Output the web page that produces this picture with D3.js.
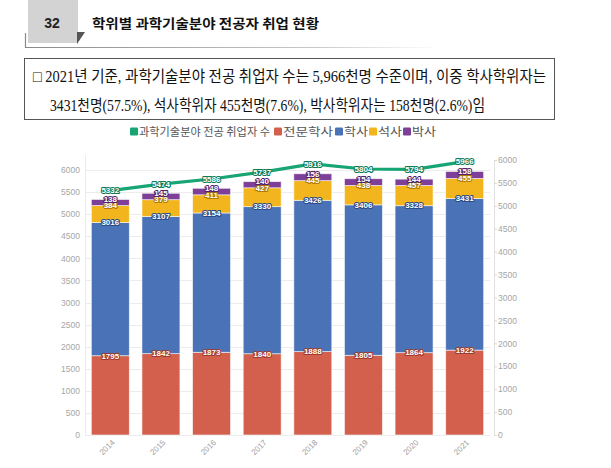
<!DOCTYPE html>
<html><head><meta charset="utf-8">
<script src="https://cdn.jsdelivr.net/npm/d3@7/dist/d3.min.js"></script>
<style>
html,body{margin:0;padding:0;background:#fff;}
svg{display:block;}
</style></head>
<body>
<svg id="c" width="611" height="468"></svg>
<script>
const years = ["2014","2015","2016","2017","2018","2019","2020","2021"];
const associate = [1795,1842,1873,1840,1888,1805,1864,1922];   // 전문학사
const bachelor  = [3016,3107,3154,3330,3426,3406,3328,3431];   // 학사
const master    = [384,379,411,427,445,438,457,455];           // 석사
const doctor    = [138,145,148,140,156,154,144,158];           // 박사
const total     = [5332,5474,5586,5737,5916,5804,5794,5966];   // 과학기술분야 전공 취업자 수
const leftTicks = [0,500,1000,1500,2000,2500,3000,3500,4000,4500,5000,5500,6000];
const rightTicks = [0,500,1000,1500,2000,2500,3000,3500,4000,4500,5000,5500,6000];

const seriesNames = ["전문학사","학사","석사","박사"];
const seriesData = [associate, bachelor, master, doctor];
const colors = ["#d2604d","#4a72b6","#f2b51e","#7e3f98"];
const darkColors = ["#9e3a2a","#2a4a85","#b07a00","#52206b"];
const lineColor = "#17a574";
const lineDark = "#0e7a54";

const svg = d3.select("#c");
const defs = svg.append("defs");
const grad = defs.append("linearGradient").attr("id","hl").attr("x1","0").attr("x2","1");
grad.append("stop").attr("offset","0").attr("stop-color","#8a8a8a");
grad.append("stop").attr("offset","0.7").attr("stop-color","#c8c8c8");
grad.append("stop").attr("offset","1").attr("stop-color","#ffffff");

// ---- header
svg.append("rect").attr("x",28).attr("y",0).attr("width",50).attr("height",43).attr("fill","#d3d3d3");
svg.append("path").attr("d","M77,32 L85,32 L77,44 Z").attr("fill","#555");
svg.append("path").attr("d","M25.5,33 L25.5,47.5 L440,47.5").attr("fill","none").attr("stroke","url(#hl)").attr("stroke-width",1.2);
svg.append("text").attr("x",52).attr("y",28).attr("text-anchor","middle")
  .attr("font-family","Liberation Sans, Arial, sans-serif").attr("font-weight","bold").attr("font-size",14).attr("fill","#222").text("32");
svg.append("text").attr("x",92).attr("y",28)
  .attr("font-family","Noto Sans CJK KR, sans-serif").attr("font-weight","bold").attr("font-size",13).attr("fill","#111")
  .attr("textLength",227).attr("lengthAdjust","spacingAndGlyphs")
  .text("학위별 과학기술분야 전공자 취업 현황");

// ---- text box
svg.append("rect").attr("x",24.5).attr("y",58.5).attr("width",530).attr("height",61).attr("fill","#fff").attr("stroke","#555").attr("stroke-width",1);
const boxFont = "Liberation Serif, Noto Sans CJK KR, serif";
svg.append("text").attr("x",33).attr("y",82).attr("font-family",boxFont).attr("font-size",16).attr("fill","#111")
  .attr("textLength",513).attr("lengthAdjust","spacingAndGlyphs")
  .text("□ 2021년 기준, 과학기술분야 전공 취업자 수는 5,966천명 수준이며, 이중 학사학위자는");
svg.append("text").attr("x",50).attr("y",111).attr("font-family",boxFont).attr("font-size",16).attr("fill","#111")
  .attr("textLength",435).attr("lengthAdjust","spacingAndGlyphs")
  .text("3431천명(57.5%),  석사학위자 455천명(7.6%),  박사학위자는 158천명(2.6%)임");

// ---- legend
const legendItems = [
  {name:"과학기술분야 전공 취업자 수", color:lineColor, x:130, tl:131},
  {name:seriesNames[0], color:colors[0], x:274, tl:50},
  {name:seriesNames[1], color:colors[1], x:335, tl:24},
  {name:seriesNames[2], color:colors[2], x:369, tl:24},
  {name:seriesNames[3], color:colors[3], x:403, tl:24}
];
const lg = svg.append("g");
legendItems.forEach(d=>{
  lg.append("rect").attr("x",d.x).attr("y",127.5).attr("width",8).attr("height",8).attr("rx",1.2).attr("fill",d.color);
  lg.append("text").attr("x",d.x+9).attr("y",135.5).attr("font-family","Noto Sans CJK KR, sans-serif")
    .attr("font-size",11.5).attr("fill","#555").attr("textLength",d.tl).attr("lengthAdjust","spacingAndGlyphs").text(d.name);
});

// ---- scales
const x = d3.scaleBand().domain(years).range([85,490]).paddingInner(0.25).paddingOuter(0.125);
const yL = d3.scaleLinear().domain([0,6000]).range([435,170]);
const yR = d3.scaleLinear().domain([0,6000]).range([435,160]);

// gridlines
const grid = svg.append("g");
grid.selectAll("line").data(leftTicks).join("line")
  .attr("x1",85).attr("x2",490).attr("y1",d=>Math.round(yL(d))+0.5).attr("y2",d=>Math.round(yL(d))+0.5)
  .attr("stroke","#ececec").attr("stroke-width",1);
svg.append("line").attr("x1",85.5).attr("x2",85.5).attr("y1",155).attr("y2",435).attr("stroke","#ececec");

// left axis
const axL = svg.append("g").attr("transform","translate(80,0)")
  .call(d3.axisLeft(yL).tickValues(leftTicks).tickSize(0).tickPadding(0).tickFormat(d3.format("d")));
axL.select(".domain").remove();
axL.selectAll("text").attr("font-family","Liberation Sans, Arial, sans-serif").attr("font-size",8.5).attr("fill","#a6a6a6");

// right axis
const axR = svg.append("g").attr("transform","translate(494,0)")
  .call(d3.axisRight(yR).tickValues(rightTicks).tickSize(3).tickPadding(1).tickFormat(d3.format("d")));
axR.select(".domain").attr("stroke","#e2e2e2");
axR.selectAll(".tick line").attr("stroke","#d8d8d8");
axR.selectAll("text").attr("font-family","Liberation Sans, Arial, sans-serif").attr("font-size",8.5).attr("fill","#a6a6a6");

// x axis labels
const axX = svg.append("g").attr("transform","translate(0,437)")
  .call(d3.axisBottom(x).tickSize(0).tickPadding(0));
axX.select(".domain").remove();
axX.selectAll("text").attr("font-family","Liberation Sans, Arial, sans-serif").attr("font-size",8)
  .attr("fill","#a0a0a0").attr("text-anchor","end").attr("dy",0)
  .attr("transform","translate(5,6) rotate(-45)");

// ---- stacked bars
const rows = years.map((yr,i)=>{ const o={year:yr}; seriesNames.forEach((s,k)=>o[s]=seriesData[k][i]); return o; });
const stacked = d3.stack().keys(seriesNames)(rows);
const bars = svg.append("g");
stacked.forEach((layer,k)=>{
  bars.append("g").selectAll("rect").data(layer).join("rect")
    .attr("x",d=>x(d.data.year)).attr("width",x.bandwidth())
    .attr("y",d=>yL(d[1])).attr("height",d=>yL(d[0])-yL(d[1]))
    .attr("fill",colors[k]).attr("stroke","#ffffff").attr("stroke-opacity",0.7).attr("stroke-width",0.8);
});

// ---- total line
const line = d3.line().x((d,i)=>x(years[i])+x.bandwidth()/2).y(d=>yR(d)).curve(d3.curveLinear);
svg.append("path").datum(total).attr("d",line).attr("fill","none").attr("stroke",lineColor).attr("stroke-width",3.2).attr("stroke-linejoin","round");

// ---- data labels
const labFont = "Liberation Sans, Arial, sans-serif";
function label(g, xx, yy, txt, dark){
  g.append("text").attr("x",xx).attr("y",yy).attr("dy","0.35em").attr("text-anchor","middle")
    .attr("font-family",labFont).attr("font-weight","bold").attr("font-size",8)
    .attr("fill","#fff").attr("stroke",dark).attr("stroke-width",2).attr("paint-order","stroke")
    .attr("stroke-linejoin","round").text(txt);
}
const labels = svg.append("g");
stacked.forEach((layer,k)=>{
  layer.forEach(d=>label(labels, x(d.data.year)+x.bandwidth()/2, yL(d[1]), d.data[seriesNames[k]], darkColors[k]));
});
total.forEach((v,i)=>label(labels, x(years[i])+x.bandwidth()/2, yR(v), v, lineDark));
</script>
</body></html>
